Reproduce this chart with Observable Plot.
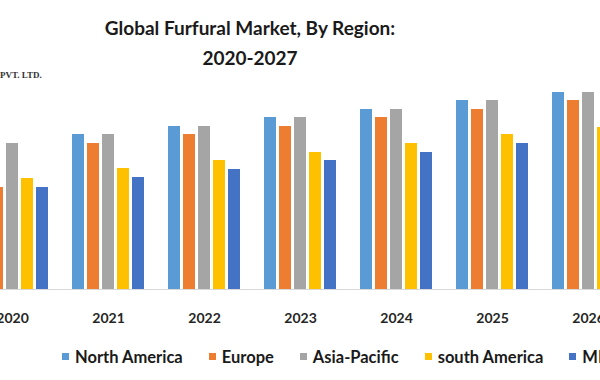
<!DOCTYPE html>
<html>
<head>
<meta charset="utf-8">
<script src="https://cdn.jsdelivr.net/npm/d3@7"></script>
<script src="https://cdn.jsdelivr.net/npm/@observablehq/plot@0.6"></script>
<style>
  html, body { margin: 0; padding: 0; background: #fff; }
  #wrap { position: relative; width: 600px; height: 380px; overflow: hidden; font-family: Lato, "Open Sans", sans-serif; }
  #title { height: 74px; box-sizing: border-box; padding-top: 13px; width: 500px; text-align: center; font-weight: bold; font-size: 19px; line-height: 30px; color: #1a1a1a; }
  #wm { position: absolute; left: 0; top: 70px; font-family: "Liberation Serif", serif; font-weight: bold; font-size: 9px; color: #333; }
  #legend { height: 48px; box-sizing: border-box; padding-top: 1px; display: flex; font-size: 16.5px; font-weight: bold; line-height: 20px; color: #1a1a1a; white-space: nowrap; }
  .item { display: flex; align-items: center; margin-right: 26px; }
  .sw { width: 7px; height: 7px; margin-right: 6px; }
  svg { overflow: hidden; display: block; }
</style>
</head>
<body>
<div id="wrap">
  <div id="title"><div>Global Furfural Market, By Region:</div><div>2020-2027</div></div>
  <div id="wm">PVT. LTD.</div>
  <div id="chart"></div>
  <div id="legend"></div>
</div>
<script>
const years = ["2020", "2021", "2022", "2023", "2024", "2025", "2026", "2027"];
const regions = ["North America", "Europe", "Asia-Pacific", "south America", "MEA"];
const colors = ["#5B9BD5", "#ED7D31", "#A5A5A5", "#FFC000", "#4472C4"];
const northAmerica = [146, 155, 163, 172, 180, 189, 197, 206];
const europe       = [102, 146, 155, 163, 172, 180, 189, 197];
const asiaPacific  = [146, 155, 163, 172, 180, 189, 197, 206];
const southAmerica = [111, 121, 129, 137, 146, 155, 162, 171];
const mea          = [102, 112, 120, 129, 137, 146, 154, 163];

const series = [northAmerica, europe, asiaPacific, southAmerica, mea];
const rows = [];
years.forEach((y, i) => regions.forEach((r, j) => rows.push({year: y, region: r, value: series[j][i]})));

const chart = Plot.plot({
  width: 600,
  height: 258,
  marginTop: 0,
  marginBottom: 43,
  marginLeft: 0,
  marginRight: 0,
  style: "font-family: Lato, 'Open Sans', sans-serif; font-size: 14px; font-weight: bold; color: #262626; background: #fff; overflow: hidden;",
  facet: {data: rows, x: "year"},
  fx: {domain: years, range: [-25.5, 722], paddingInner: 0.254, paddingOuter: 0, axis: "bottom", label: null, tickSize: 0, tickPadding: 24},
  x: {domain: regions, paddingInner: 0.2, paddingOuter: 0, axis: null},
  y: {domain: [0, 215], axis: null},
  color: {domain: regions, range: colors},
  marks: [
    Plot.barY(rows, {x: "region", y: "value", fill: "region"}),
    Plot.ruleY([0], {stroke: "#d9d9d9", insetLeft: -13, insetRight: -13})
  ]
});
document.getElementById("chart").appendChild(chart);

const legend = document.getElementById("legend");
legend.style.paddingLeft = "62px";
regions.forEach((r, j) => {
  const it = document.createElement("div");
  it.className = "item";
  const sw = document.createElement("span");
  sw.className = "sw";
  sw.style.background = colors[j];
  const tx = document.createElement("span");
  tx.textContent = r;
  it.appendChild(sw); it.appendChild(tx);
  legend.appendChild(it);
});
</script>
</body>
</html>
